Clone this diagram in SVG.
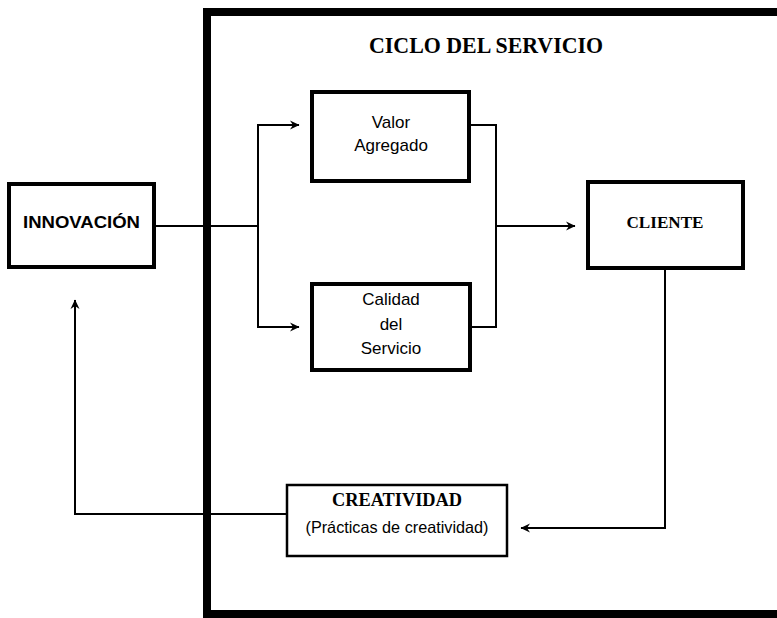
<svg xmlns="http://www.w3.org/2000/svg" width="777" height="618" viewBox="0 0 777 618">
<defs>
<marker id="arr" markerUnits="userSpaceOnUse" markerWidth="10" markerHeight="10" refX="9" refY="5" orient="auto">
<path d="M0,0.5 L9.5,5 L0,9.5 L3,5 z" fill="#000"/>
</marker>
<style>
.box{fill:none;stroke:#000;stroke-width:4}
.thin{fill:none;stroke:#000;stroke-width:2.5}
.con{fill:none;stroke:#000;stroke-width:2}
.bs{font-family:"Liberation Serif",serif;font-weight:bold;fill:#000}
.sb{font-family:"Liberation Sans",sans-serif;font-weight:bold;fill:#000}
.sn{font-family:"Liberation Sans",sans-serif;fill:#000}
</style>
</defs>
<rect width="777" height="618" fill="#fff"/>
<g id="frame">
<path d="M790,12 L207,12 L207,614 L790,614" fill="none" stroke="#000" stroke-width="8"/>
<text class="bs" x="486" y="53" font-size="24" text-anchor="middle" textLength="234" lengthAdjust="spacingAndGlyphs">CICLO DEL SERVICIO</text>
</g>
<g id="connectors">
<polyline class="con" points="156,226 258,226"/>
<polyline class="con" points="258,226 258,125 299,125" marker-end="url(#arr)"/>
<polyline class="con" points="258,226 258,327 299,327" marker-end="url(#arr)"/>
<polyline class="con" points="470,125 496,125 496,327 470,327"/>
<polyline class="con" points="496,226 575,226" marker-end="url(#arr)"/>
<polyline class="con" points="665,269 665,528 521,528" marker-end="url(#arr)"/>
<polyline class="con" points="287,514 75,514 75,300" marker-end="url(#arr)"/>
</g>
<g id="innovacion">
<rect class="box" x="9" y="184" width="145" height="83"/>
<text class="sb" x="81.5" y="228" font-size="17" text-anchor="middle" textLength="117" lengthAdjust="spacingAndGlyphs">INNOVACIÓN</text>
</g>
<g id="valor">
<rect class="box" x="312" y="92" width="157" height="89"/>
<text class="sn" x="391" y="128" font-size="17" text-anchor="middle">Valor</text>
<text class="sn" x="391" y="151" font-size="17" text-anchor="middle">Agregado</text>
</g>
<g id="calidad">
<rect class="box" x="312" y="284" width="158" height="86"/>
<text class="sn" x="391" y="305" font-size="17" text-anchor="middle">Calidad</text>
<text class="sn" x="391" y="330" font-size="17" text-anchor="middle">del</text>
<text class="sn" x="391" y="354" font-size="17" text-anchor="middle">Servicio</text>
</g>
<g id="cliente">
<rect class="box" x="588" y="182" width="155" height="86"/>
<text class="bs" x="665" y="228" font-size="17" text-anchor="middle" textLength="77" lengthAdjust="spacingAndGlyphs">CLIENTE</text>
</g>
<g id="creatividad">
<rect class="thin" x="287" y="485" width="220" height="71"/>
<text class="bs" x="397" y="506" font-size="18" text-anchor="middle" textLength="130" lengthAdjust="spacingAndGlyphs">CREATIVIDAD</text>
<text class="sn" x="397" y="533" font-size="16.5" text-anchor="middle" textLength="183" lengthAdjust="spacingAndGlyphs">(Prácticas de creatividad)</text>
</g>
</svg>
